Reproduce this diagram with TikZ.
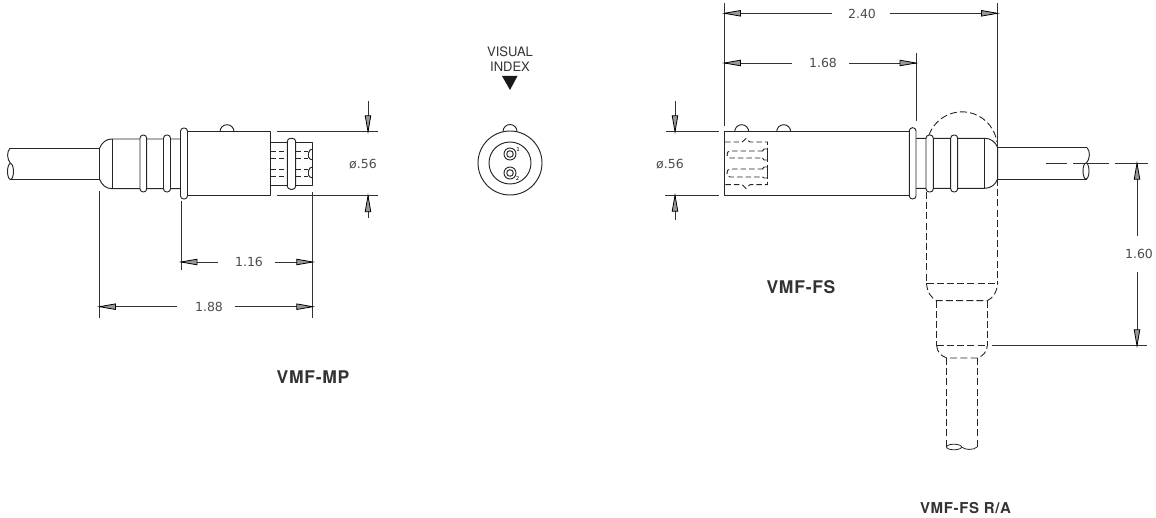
\documentclass[tikz,border=0pt]{standalone}
\usepackage{fontspec}
\setmainfont{DejaVu Sans}
\newfontfamily\labelfont{TeX Gyre Heros}
\newfontfamily\labelbold[LetterSpace=4]{TeX Gyre Heros Bold}
\tikzset{
  x=1pt,y=-1pt,
  part/.style={draw=black!85,line width=0.95pt,line join=round},
  ringpart/.style={part,fill=white,rounded corners=3.2pt},
  hidden/.style={draw=black!85,line width=0.9pt,dash pattern=on 7pt off 3.2pt},
  hiddensmall/.style={draw=black!85,line width=0.9pt,dash pattern=on 5.5pt off 3pt},
  dimline/.style={draw=black!80,line width=0.85pt},
  dimtext/.style={font=\fontsize{12.5}{14}\selectfont,text=black!70,inner sep=0pt},
  partname/.style={font=\labelbold\fontsize{17.5}{19}\selectfont,text=black!80,inner sep=0pt},
  tiphead/.style={draw=black,line width=0.8pt,fill=black!40,line join=miter}
}
\newcommand{\tiparrow}[3]{\draw[tiphead,shift={(#1,#2)},rotate=#3] (0,0) -- (-16,-2.8) -- (-16,2.8) -- cycle;}
\begin{document}
\begin{tikzpicture}
\useasboundingbox (0,0) rectangle (1156,518);
% ---- VMF-MP
\draw[part] (10,148.3) -- (99.5,148.3) (10,179.3) -- (99.5,179.3);
\draw[part] (10,148.3) .. controls (6.5,152) and (7,159) .. (10.5,163.5);
\draw[part] (10.5,171.5) ellipse [x radius=3,y radius=8];
\draw[part] (99.5,148.3) -- (99.5,179.3);
\draw[part] (99.5,148.3) .. controls (102,142.5) and (106,139) .. (112,139) -- (181,139);
\draw[part] (99.5,179.3) .. controls (102,185) and (106,188.7) .. (112,188.7) -- (181,188.7);
\draw[part] (112,139) -- (112,188.7);
\draw[ringpart] (140,135) rectangle (146.7,192);
\draw[ringpart] (163.5,135) rectangle (170.5,192);
\draw[part] (187,131.7) -- (270,131.7) -- (270,195.7) -- (187,195.7);
\draw[ringpart] (180.5,128) rectangle (187.5,199);
\draw[part] (220,131.7) arc [start angle=180,end angle=360,radius=7];
\draw[part] (270,142.3) -- (312.7,142.3) -- (312.7,185) -- (270,185);
\foreach \yy in {151,158.7,169,176.3}{\draw[hiddensmall] (270,\yy) -- (308,\yy);}
\draw[part] (312.7,149) -- (310,150) -- (308.5,153) -- (308.5,157) -- (310,159) -- (312.7,160);
\draw[part] (312.7,167) -- (310,168) -- (308.5,171) -- (308.5,175) -- (310,177) -- (312.7,178);
\draw[ringpart] (287.3,138.3) rectangle (295.7,189.3);
% dimensions MP
\draw[dimline] (277,131.7) -- (378,131.7) (277,195.7) -- (378,195.7);
\draw[dimline] (368,101) -- (368,131.7) (368,195.7) -- (368,218);
\tiparrow{368}{131.7}{-90}\tiparrow{368}{195.7}{90}
\node[dimtext] (mpdia) at (363,164.5) {ø.56};
\draw[dimline] (99.5,191) -- (99.5,318);
\draw[dimline] (181,201) -- (181,270);
\draw[dimline] (312.7,192) -- (312.7,318);
\node[dimtext] (mpa) at (249,262) {1.16};
\node[dimtext] (mpb) at (209,306.7) {1.88};
\draw[dimline] (181,262) -- (218,262) (275,262) -- (312.7,262);
\draw[dimline] (99.5,306.7) -- (177,306.7) (235,306.7) -- (312.7,306.7);
\tiparrow{181}{262}{180}\tiparrow{312.7}{262}{0}
\tiparrow{99.5}{306.7}{180}\tiparrow{312.7}{306.7}{0}
\node[partname] (mp) at (313,377) {VMF-MP};
% ---- Visual index
\node[inner sep=0pt,font=\labelfont\fontsize{13}{14.5}\selectfont,text=black!80,align=center] (vi) at (510,59) {VISUAL\\INDEX};
\fill[black!90] (502,76) -- (517.5,76) -- (510,90) -- cycle;
\draw[part,fill=white] (503,131.5) arc [start angle=180,end angle=360,radius=7];
\draw[part,fill=white] (510,163) circle [radius=32];
\draw[part] (510,163) circle [radius=21];
\draw[part] (510,154) circle [radius=6] (510,154) circle [radius=3.3];
\draw[part] (510,173) circle [radius=6] (510,173) circle [radius=3.3];
\node[inner sep=0pt,font=\fontsize{5.5}{6}\selectfont] (one) at (518,149.5) {1};
\node[inner sep=0pt,font=\fontsize{5.5}{6}\selectfont] (two) at (517.5,178) {2};
% ---- VMF-FS
\draw[part] (909.5,131.7) -- (724.7,131.7) -- (724.7,195.3) -- (909.5,195.3);
\draw[part] (734.7,131.7) arc [start angle=180,end angle=360,radius=7];
\draw[part] (776.7,131.7) arc [start angle=180,end angle=360,radius=7];
\draw[hiddensmall] (725,142) -- (742,142) .. controls (744,142) and (744.5,138.5) .. (746,138.5) .. controls (747.5,138.5) and (748,142) .. (750,142) -- (767.5,142) -- (767.5,184.7) -- (750,184.7) .. controls (748,184.7) and (747.5,188.5) .. (746,188.5) .. controls (744.5,188.5) and (744,184.7) .. (742,184.7) -- (725,184.7);
\foreach \ya/\yb in {151/158,169/177}{
  \draw[hiddensmall] (763,\ya) -- (730,\ya) .. controls (726,\ya) and (726,\yb) .. (730,\yb) -- (763,\yb);
}
\draw[part] (762.5,151) -- (764,149) -- (767.5,149) -- (767.5,160) -- (764,160) -- (762.5,158);
\draw[part] (762.5,169) -- (764,167) -- (767.5,167) -- (767.5,178) -- (764,178) -- (762.5,177);
\draw[part] (916,138.3) -- (984.7,138.3) .. controls (991,138.3) and (995.5,142) .. (997.7,147.7) -- (997.7,179) .. controls (995.5,184.5) and (991,188.3) .. (984.7,188.3) -- (916,188.3);
\draw[part] (984.7,138.3) -- (984.7,188.3);
\draw[part] (997.7,147.7) -- (1087,147.7) (997.7,179) -- (1087,179);
\draw[part] (1087,147.7) .. controls (1090.5,151) and (1090,159) .. (1086.5,163);
\draw[part] (1086,171) ellipse [x radius=3,y radius=8];
\draw[ringpart] (909.3,127.7) rectangle (916,199);
\draw[ringpart] (926,135) rectangle (933.3,192);
\draw[ringpart] (950.7,135) rectangle (957.7,192);
% R/A hidden outline
\draw[hidden] (929,135) arc [start angle=200,end angle=352,radius=35.2];
\draw[hidden] (926.5,192) -- (926.5,283) (997.7,179) -- (997.7,283);
\draw[hidden] (926.5,283) -- (997.7,283);
\draw[hidden] (926.5,283) .. controls (927,292) and (931,298) .. (936.7,300.7) -- (987.3,300.7) .. controls (993,298) and (997,292) .. (997.7,283);
\draw[hidden] (936.7,300.7) -- (936.7,345.7) (987.3,300.7) -- (987.3,345.7);
\draw[hidden] (936.7,345.7) -- (987.3,345.7);
\draw[hidden] (936.7,345.7) .. controls (937,352) and (941,356) .. (946.7,358) -- (977.3,358) .. controls (983,356) and (987,352) .. (987.3,345.7);
\draw[hidden] (946.7,358) -- (946.7,446.7) (977.3,358) -- (977.3,446.7);
\draw[part,line width=0.8pt] (954,447) ellipse [x radius=7.5,y radius=2.8];
\draw[part,line width=0.8pt] (961.5,447) .. controls (965,450) and (973,450.5) .. (977.3,447);
% dimensions FS
\draw[dimline] (724.4,3) -- (724.4,126);
\draw[dimline] (997.5,3) -- (997.5,147);
\draw[dimline] (916,53) -- (916,121);
\node[dimtext] (fsa) at (862,13.5) {2.40};
\node[dimtext] (fsb) at (823,63) {1.68};
\draw[dimline] (724.4,13.3) -- (832,13.3) (890,13.3) -- (997.5,13.3);
\draw[dimline] (724.4,63) -- (792,63) (849,63) -- (916,63);
\tiparrow{724.4}{13.3}{180}\tiparrow{997.5}{13.3}{0}
\tiparrow{724.4}{63}{180}\tiparrow{916}{63}{0}
\draw[dimline] (666,131.7) -- (719,131.7) (665,195.3) -- (719,195.3);
\draw[dimline] (675,101) -- (675,131.7) (675,195.3) -- (675,220);
\tiparrow{675}{131.7}{-90}\tiparrow{675}{195.3}{90}
\node[dimtext] (fsdia) at (670,164.5) {ø.56};
\draw[dimline] (1046,163.3) -- (1067,163.3) (1073,163.3) -- (1109,163.3) (1114.5,163.3) -- (1148,163.3);
\draw[dimline] (992,345.7) -- (1147,345.7);
\draw[dimline] (1137,163.3) -- (1137,236) (1137,272) -- (1137,345.7);
\tiparrow{1137}{163.3}{90}\tiparrow{1137}{345.7}{-90}
\node[dimtext] (fsc) at (1139,254) {1.60};
\node[partname] (fs) at (801,286.7) {VMF-FS};
\node[partname,font=\labelbold\fontsize{15}{16}\selectfont] (fsra) at (965.5,508) {VMF-FS R/A};
\end{tikzpicture}
\end{document}
